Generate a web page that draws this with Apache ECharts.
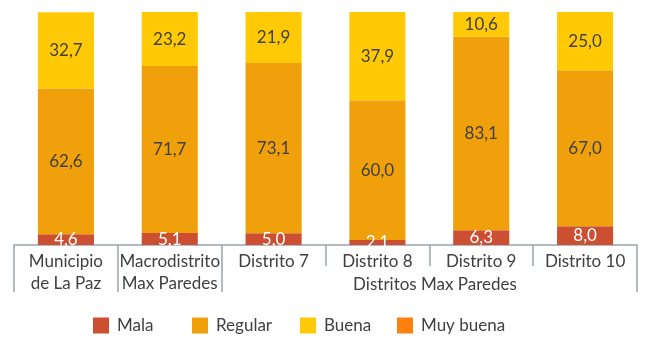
<!DOCTYPE html>
<html><head><meta charset="utf-8">
<script src="https://cdn.jsdelivr.net/npm/echarts@6/dist/echarts.min.js"></script>
<style>html,body{margin:0;padding:0;background:#fff}#c{width:651px;height:354px}</style>
</head><body><div id="c"></div>
<script>
const categories = ['Municipio\nde La Paz', 'Macrodistrito\nMax Paredes', 'Distrito 7', 'Distrito 8', 'Distrito 9', 'Distrito 10'];
const groupLabel = 'Distritos Max Paredes';
const mala = [4.6, 5.1, 5.0, 2.1, 6.3, 8.0];
const regular = [62.6, 71.7, 73.1, 60.0, 83.1, 67.0];
const buena = [32.7, 23.2, 21.9, 37.9, 10.6, 25.0];
const muyBuena = [0, 0, 0, 0, 0, 0];
const seriesNames = ['Mala', 'Regular', 'Buena', 'Muy buena'];
const colors = ['#CD4F31', '#F0A00A', '#FFCA05', '#FF7F11'];

const FONT = 'Lato';
const txt = '#404040';
const axisCol = '#9AA3AD';
const fmt = p => p.value > 0 ? p.value.toFixed(1).replace('.', ',') : '';

function mk(name, data, color, labelColor) {
  return {
    name, type: 'bar', stack: 'a', data, barWidth: '54%',
    itemStyle: { color },
    label: { show: true, position: 'inside', formatter: fmt, color: labelColor, fontFamily: FONT, fontSize: 17 },
    emphasis: { disabled: true }
  };
}
const legendLefts = [93, 192, 300, 397];
const chart = echarts.init(document.getElementById('c'));
chart.setOption({
  animation: false,
  textStyle: { fontFamily: FONT },
  grid: { left: 14, right: 14, top: 12, bottom: 109 },
  title: { text: groupLabel, left: 430, top: 271, textAlign: 'center',
    textStyle: { fontFamily: FONT, fontSize: 17, fontWeight: 'normal', color: txt } },
  legend: seriesNames.map((n, i) => ({
    data: [n], left: legendLefts[i], top: 317, padding: 0, itemWidth: 16, itemHeight: 16, icon: 'rect',
    selectedMode: false,
    textStyle: { fontFamily: FONT, fontSize: 17, color: txt, padding: [0, 0, 0, 3] }
  })),
  xAxis: [
    { type: 'category', data: categories, position: 'bottom',
      axisLine: { show: true, lineStyle: { color: axisCol, width: 1.5 } },
      axisTick: { show: true, length: 21, lineStyle: { color: axisCol, width: 1.5 } },
      axisLabel: { fontFamily: FONT, fontSize: 17, color: txt, lineHeight: 22, margin: 6, interval: 0 } },
    { type: 'category', data: categories, position: 'bottom',
      axisLine: { show: false },
      axisTick: { show: true, length: 47, interval: (i) => i <= 2, lineStyle: { color: axisCol, width: 1.5 } },
      axisLabel: { show: false } }
  ],
  yAxis: { type: 'value', min: 0, max: 100, show: false },
  series: [
    mk(seriesNames[0], mala, colors[0], '#ffffff'),
    mk(seriesNames[1], regular, colors[1], txt),
    mk(seriesNames[2], buena, colors[2], txt),
    mk(seriesNames[3], muyBuena, colors[3], txt)
  ]
});
</script></body></html>
